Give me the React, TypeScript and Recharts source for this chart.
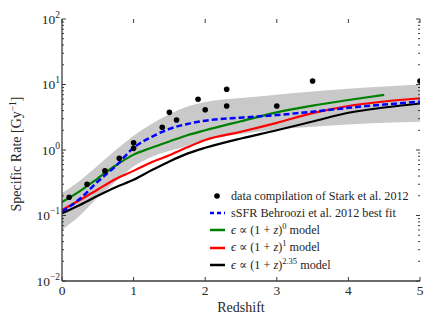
import { ComposedChart, Line, Area, Scatter, XAxis, YAxis } from "recharts";

// redshift grid for the model curves and the grey band
const redshift = [0, 0.25, 0.5, 0.75, 1, 1.25, 1.5, 1.75, 2, 2.5, 3, 3.5, 4, 4.5, 5];
const behroozi = [0.115, 0.18, 0.33, 0.57, 1.08, 1.58, 2.1, 2.5, 2.8, 3.12, 3.42, 3.85, 4.4, 4.95, 5.46];
const modelEps0 = [0.16, 0.235, 0.37, 0.58, 0.85, 1.08, 1.35, 1.68, 2.0, 2.75, 3.75, 4.75, 5.8, 6.95, null];
const modelEps1 = [0.121, 0.172, 0.25, 0.36, 0.48, 0.65, 0.83, 1.1, 1.42, 1.9, 2.6, 3.65, 4.7, 5.5, 6.17];
const modelEps235 = [0.108, 0.145, 0.2, 0.27, 0.35, 0.49, 0.67, 0.88, 1.08, 1.5, 2.0, 2.72, 3.7, 4.45, 5.13];
const bandLow = [0.06, 0.1, 0.19, 0.33, 0.56, 0.78, 0.97, 1.15, 1.4, 1.75, 2.05, 2.27, 2.45, 2.6, 2.7];
const bandHigh = [0.22, 0.34, 0.58, 1.0, 1.65, 2.5, 3.5, 4.6, 5.4, 6.2, 7.0, 7.8, 8.6, 9.3, 10];

// Stark et al. 2012 compilation
const starkZ = [0.1, 0.35, 0.6, 0.8, 1.0, 1.0, 1.4, 1.5, 1.6, 1.9, 2.0, 2.3, 2.3, 3.0, 3.5, 5.0];
const starkRate = [0.19, 0.3, 0.48, 0.75, 1.06, 1.29, 2.22, 3.76, 2.87, 5.94, 4.12, 8.45, 4.7, 4.7, 11.3, 11.3];

const xTicks = [0, 1, 2, 3, 4, 5];
const decades = [0.01, 0.1, 1, 10, 100];
const decadeLabels = ["\u22122", "\u22121", "0", "1", "2"];

const yTicks = decades.flatMap((d, i) =>
  i < decades.length - 1 ? [d, 2 * d, 3 * d, 4 * d, 5 * d, 6 * d, 7 * d, 8 * d, 9 * d] : [d]
);

const rows = redshift.map((z, i) => ({
  z,
  band: [bandLow[i], bandHigh[i]],
  behroozi: behroozi[i],
  eps0: modelEps0[i],
  eps1: modelEps1[i],
  eps235: modelEps235[i],
}));

const stark = starkZ.map((z, i) => ({ z, rate: starkRate[i] }));

const W = 436;
const H = 327;
const MARGIN = { top: 19, right: 16, bottom: 0, left: 0 };
const Y_AXIS_W = 62;
const X_AXIS_H = 46;
const PLOT_W = W - MARGIN.left - MARGIN.right - Y_AXIS_W;
const PLOT_H = H - MARGIN.top - MARGIN.bottom - X_AXIS_H;

const FONT = "'Liberation Serif', 'DejaVu Serif', serif";
const TEXT = "#262626";
const SPINE = "#3c3c3c";

// ticks point inward on all four sides, mirrored from the left / bottom axes
const LeftTick = (props: any) => {
  const { x, y, payload } = props;
  const v = payload.value;
  const ax = x + 3;
  const k = decades.indexOf(v);
  const len = k >= 0 ? 4 : 2;
  return (
    <g>
      <line x1={ax} x2={ax + len} y1={y} y2={y} stroke={SPINE} strokeWidth={1} />
      <line x1={ax + PLOT_W} x2={ax + PLOT_W - len} y1={y} y2={y} stroke={SPINE} strokeWidth={1} />
      {k >= 0 && (
        <text x={ax - 2} y={y + 4.5} textAnchor="end" fill={TEXT} fontFamily={FONT} fontSize={13.5}>
          10
          <tspan dy={-6} fontSize={9.5}>
            {decadeLabels[k]}
          </tspan>
        </text>
      )}
    </g>
  );
};

const BottomTick = (props: any) => {
  const { x, y, payload } = props;
  return (
    <g>
      <line x1={x} x2={x} y1={y} y2={y - 4} stroke={SPINE} strokeWidth={1} />
      <line x1={x} x2={x} y1={y - PLOT_H} y2={y - PLOT_H + 4} stroke={SPINE} strokeWidth={1} />
      <text x={x} y={y + 14} textAnchor="middle" fill={TEXT} fontFamily={FONT} fontSize={13.5}>
        {payload.value}
      </text>
    </g>
  );
};

const XTitle = (props: any) => {
  const vb = props.viewBox || { x: Y_AXIS_W, y: MARGIN.top + PLOT_H, width: PLOT_W };
  return (
    <text x={vb.x + vb.width / 2} y={vb.y + 31} textAnchor="middle" fill={TEXT} fontFamily={FONT} fontSize={14}>
      Redshift
    </text>
  );
};

const YTitle = () => (
  <text
    x={21}
    y={154}
    transform="rotate(-90 21 154)"
    textAnchor="middle"
    fill={TEXT}
    fontFamily={FONT}
    fontSize={14}
  >
    Specific Rate [Gy
    <tspan dy={-5} fontSize={9.5}>
      {"\u22121"}
    </tspan>
    <tspan dy={5}>]</tspan>
  </text>
);

const legendItems = [
  { kind: "dot", color: "#000", label: <>data compilation of Stark et al. 2012</> },
  { kind: "dash", color: "#0000ff", label: <>sSFR Behroozi et al. 2012 best fit</> },
  { kind: "line", color: "#008000", label: <><i>ϵ</i> ∝ (1 + <i>z</i>)<sup>0</sup> model</> },
  { kind: "line", color: "#ff0000", label: <><i>ϵ</i> ∝ (1 + <i>z</i>)<sup>1</sup> model</> },
  { kind: "line", color: "#000", label: <><i>ϵ</i> ∝ (1 + <i>z</i>)<sup>2.35</sup> model</> },
];

function ChartLegend() {
  return (
    <div style={{ position: "absolute", left: 208, top: 187, fontFamily: FONT, fontSize: 12.2, color: TEXT }}>
      {legendItems.map((it, i) => (
        <div key={i} style={{ display: "flex", alignItems: "center", height: 17.3, whiteSpace: "nowrap" }}>
          <svg width={18} height={10} style={{ marginRight: 5 }}>
            {it.kind === "dot" && <circle cx={9} cy={5} r={2.8} fill={it.color} />}
            {it.kind === "dash" && (
              <line x1={2} x2={17} y1={5} y2={5} stroke={it.color} strokeWidth={2.5} strokeDasharray="4 3" />
            )}
            {it.kind === "line" && <line x1={2} x2={17} y1={5} y2={5} stroke={it.color} strokeWidth={2.5} />}
          </svg>
          <span style={{ lineHeight: 1 }}>{it.label}</span>
        </div>
      ))}
    </div>
  );
}

export default function App() {
  return (
    <div style={{ position: "relative", width: W, height: H, background: "#fff" }}>
      <style>{"body{margin:0}sup{font-size:0.7em;line-height:0}"}</style>
      <ComposedChart width={W} height={H} data={rows} margin={MARGIN}>
        <XAxis
          dataKey="z"
          type="number"
          domain={[0, 5]}
          ticks={xTicks}
          interval={0}
          allowDataOverflow
          height={X_AXIS_H}
          tickSize={0}
          tickMargin={0}
          tick={<BottomTick />}
          axisLine={{ stroke: SPINE, strokeWidth: 1.3 }}
          label={<XTitle />}
        />
        <XAxis
          xAxisId="top"
          orientation="top"
          dataKey="z"
          type="number"
          domain={[0, 5]}
          ticks={xTicks}
          allowDataOverflow
          height={0}
          tick={false}
          tickLine={false}
          axisLine={{ stroke: SPINE, strokeWidth: 1.3 }}
        />
        <YAxis
          scale="log"
          type="number"
          domain={[0.01, 100]}
          ticks={yTicks}
          interval={0}
          allowDataOverflow
          width={Y_AXIS_W}
          tickSize={0}
          tickMargin={3}
          tick={<LeftTick />}
          axisLine={{ stroke: SPINE, strokeWidth: 1.3 }}
          label={<YTitle />}
        />
        <YAxis
          yAxisId="right"
          orientation="right"
          scale="log"
          type="number"
          domain={[0.01, 100]}
          allowDataOverflow
          width={0}
          tick={false}
          tickLine={false}
          axisLine={{ stroke: SPINE, strokeWidth: 1.3 }}
        />
        <Area
          dataKey="band"
          type="monotone"
          fill="#c9c9c9"
          fillOpacity={1}
          stroke="none"
          isAnimationActive={false}
          activeDot={false}
        />
        <Line dataKey="eps235" type="monotone" stroke="#000" strokeWidth={2.2} dot={false} isAnimationActive={false} />
        <Line dataKey="eps1" type="monotone" stroke="#ff0000" strokeWidth={2.2} dot={false} isAnimationActive={false} />
        <Line dataKey="eps0" type="monotone" stroke="#008000" strokeWidth={2.2} dot={false} isAnimationActive={false} />
        <Line
          dataKey="behroozi"
          type="monotone"
          stroke="#0000ff"
          strokeWidth={2.5}
          strokeDasharray="6 3"
          dot={false}
          isAnimationActive={false}
        />
        <Scatter
          data={stark}
          dataKey="rate"
          fill="#000"
          isAnimationActive={false}
          shape={(p: any) => <circle cx={p.cx} cy={p.cy} r={2.8} fill="#000" />}
        />
      </ComposedChart>
      <ChartLegend />
    </div>
  );
}
